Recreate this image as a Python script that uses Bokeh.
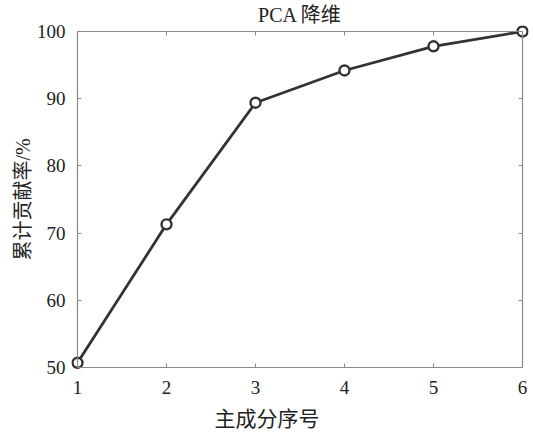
from bokeh.plotting import figure
from bokeh.models import LinearAxis, Range1d, FixedTicker, CustomLabelingPolicy, Title
from bokeh.embed import file_html
from bokeh.resources import INLINE

# cumulative contribution rate of principal components
components = [1, 2, 3, 4, 5, 6]
cumulative = [50.7, 71.3, 89.4, 94.2, 97.8, 100.0]
x_ticks = [1, 2, 3, 4, 5, 6]
y_ticks = [50, 60, 70, 80, 90, 100]

SERIF = "'Liberation Serif', 'Noto Sans CJK SC', serif"
AXIS_COLOR = "#8a8a8a"
TEXT_COLOR = "#222222"
PAD = 6  # px of room between frame edge and the axes box

x_lo, x_hi = x_ticks[0], x_ticks[-1]
y_lo, y_hi = y_ticks[0], y_ticks[-1]
x_pad = (x_hi - x_lo) * PAD / 445
y_pad = (y_hi - y_lo) * PAD / 336

p = figure(width=533, height=439, output_backend="svg", toolbar_location=None,
           x_range=Range1d(x_lo - x_pad, x_hi + x_pad),
           y_range=Range1d(y_lo - y_pad, y_hi + y_pad),
           min_border_left=77 - PAD, min_border_right=11 - PAD,
           min_border_top=31 - PAD, min_border_bottom=72 - PAD,
           x_axis_location=None, y_axis_location=None,
           title="PCA 降维")
p.title.align = "center"
p.title.text_font = SERIF
p.title.text_font_size = "20px"
p.title.text_font_style = "normal"
p.title.text_color = TEXT_COLOR
p.title.standoff = 0
p.grid.visible = False
p.outline_line_color = None
p.background_fill_color = "white"
p.border_fill_color = "white"

hide_labels = CustomLabelingPolicy(code="""
    for (const i of Array.from(indices)) indices.unset(i)
    return indices
""")


def box_side(ticks, location, bounds):
    """Axis line with inward ticks drawn at a data location (box edge)."""
    axis = LinearAxis(ticker=FixedTicker(ticks=ticks), fixed_location=location,
                      bounds=bounds, major_label_policy=hide_labels)
    axis.axis_line_color = AXIS_COLOR
    axis.axis_line_width = 1.2
    axis.major_tick_line_color = AXIS_COLOR
    axis.major_tick_in = 4
    axis.major_tick_out = 0
    axis.minor_tick_line_color = None
    return axis


def label_axis(ticks):
    """Tick numbers only, without line or ticks."""
    axis = LinearAxis(ticker=FixedTicker(ticks=ticks))
    axis.axis_line_color = None
    axis.major_tick_line_color = None
    axis.major_tick_in = 0
    axis.major_tick_out = 0
    axis.minor_tick_line_color = None
    axis.major_label_text_font = SERIF
    axis.major_label_text_font_size = "19px"
    axis.major_label_text_color = TEXT_COLOR
    return axis


# box edges first, so they sit innermost in the side panels
p.add_layout(box_side(x_ticks, y_lo, (x_lo, x_hi)), "below")
p.add_layout(box_side(y_ticks, x_lo, (y_lo, y_hi)), "left")
p.add_layout(box_side(x_ticks, y_hi, (x_lo, x_hi)), "above")
p.add_layout(box_side(y_ticks, x_hi, (y_lo, y_hi)), "right")

bottom = label_axis(x_ticks)
bottom.major_label_standoff = 13 - PAD
p.add_layout(bottom, "below")

# x-axis title, set a little left of the frame centre
p.add_layout(Title(text="主成分序号", align="left", offset=143, standoff=16,
                   text_font=SERIF, text_font_size="21px",
                   text_font_style="normal", text_color=TEXT_COLOR), "below")

left = label_axis(y_ticks)
left.major_label_standoff = 12 - PAD
left.axis_label = "累计贡献率/%"
left.axis_label_text_font = SERIF
left.axis_label_text_font_size = "20px"
left.axis_label_text_font_style = "normal"
left.axis_label_text_color = TEXT_COLOR
left.axis_label_standoff = 0
p.add_layout(left, "left")

p.line(components, cumulative, line_color="#333333", line_width=2.8)
p.scatter(components, cumulative, marker="circle", size=10,
          line_color="#333333", line_width=2.4, fill_color="white")

open("out.html", "w").write(file_html(p, INLINE))
